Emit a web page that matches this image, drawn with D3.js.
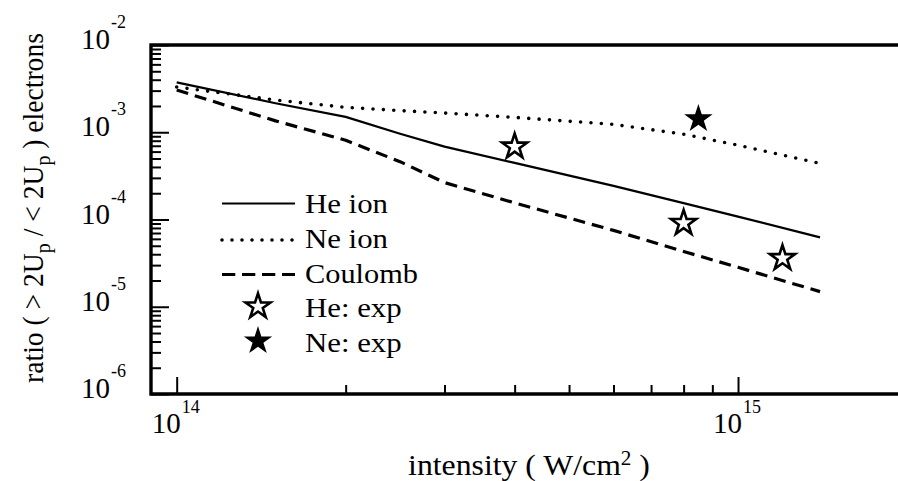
<!DOCTYPE html>
<html>
<head>
<meta charset="utf-8">
<script src="https://cdn.jsdelivr.net/npm/d3@7/dist/d3.min.js"></script>
<style>
  html, body { margin: 0; padding: 0; background: #fff; }
  svg { display: block; }
</style>
</head>
<body>
<svg id="chart" width="898" height="481"></svg>
<script>
// Intensities (W/cm^2) at which the model curves are evaluated
const intensity = [1e14, 1.5e14, 2e14, 2.5e14, 3e14, 4e14, 6e14, 8e14, 1e15, 1.4e15];
// Ratio of high-energy (>2Up) to low-energy (<2Up) electrons
const heIon   = [3.73e-3, 2.15e-3, 1.5e-3, 9.6e-4, 6.85e-4, 4.45e-4, 2.43e-4, 1.54e-4, 1.08e-4, 6.25e-5];
const neIon   = [3.3e-3, 2.34e-3, 1.93e-3, 1.77e-3, 1.66e-3, 1.48e-3, 1.23e-3, 9.5e-4, 7.1e-4, 4.4e-4];
const coulomb = [3.05e-3, 1.35e-3, 8.1e-4, 4.6e-4, 2.65e-4, 1.55e-4, 7.5e-5, 4.3e-5, 2.83e-5, 1.49e-5];
// Experimental points
const heExpX = [4e14, 8e14, 1.2e15];
const heExpY = [6.83e-4, 9.1e-5, 3.6e-5];
const neExpX = [8.5e14];
const neExpY = [1.42e-3];
// Axis ticks
const xMajor = [1e14, 1e15];
const xMajorExp = ["14", "15"];
const xMinor = [2e14, 3e14, 4e14, 5e14, 6e14, 7e14, 8e14, 9e14];
const yMajor = [1e-6, 1e-5, 1e-4, 1e-3, 1e-2];
const yMajorExp = ["-6", "-5", "-4", "-3", "-2"];
const yMinor = yMajor.slice(0, 4).flatMap(d => [2,3,4,5,6,7,8,9].map(k => k * d));
// Legend
const legendLabels = ["He ion", "Ne ion", "Coulomb", "He: exp", "Ne: exp"];

const FONT = "'Liberation Serif', 'Times New Roman', serif";
const svg = d3.select("#chart");

const x = d3.scaleLog().domain([9e13, 2e15]).range([151, 907]);
const y = d3.scaleLog().domain([1e-6, 1e-2]).range([394, 45]);
const plotL = 151, plotR = 898, plotT = 45, plotB = 394;

// horizontal fitting of a text element to a target width
function fitText(t, target, tx, ty, rot) {
  const w = t.node().getBBox().width;
  const s = target / w;
  t.attr("transform", `translate(${tx},${ty})` + (rot ? ` rotate(${rot})` : "") + ` scale(${s},1)`);
}
function addText(sz) {
  return svg.append("text").style("font-family", FONT).attr("font-size", sz).attr("fill", "#000");
}

// Curves
const line = d3.line().x(d => x(d[0])).y(d => y(d[1]));
const styles = {
  he: { w: 2.2, dash: null, cap: "butt" },
  ne: { w: 3.6, dash: "0,10.4", cap: "round" },
  co: { w: 3.2, dash: "12,7", cap: "butt" }
};
function drawCurve(vals, st) {
  svg.append("path")
    .datum(intensity.map((v, i) => [v, vals[i]]))
    .attr("d", line)
    .attr("fill", "none")
    .attr("stroke", "#000")
    .attr("stroke-width", st.w)
    .attr("stroke-linecap", st.cap)
    .attr("stroke-linejoin", "round")
    .attr("stroke-dasharray", st.dash);
}
drawCurve(heIon, styles.he);
drawCurve(neIon, styles.ne);
drawCurve(coulomb, styles.co);

// Stars
const star = d3.symbol().type(d3.symbolStar).size(195);
const starFilled = d3.symbol().type(d3.symbolStar).size(250);
svg.selectAll(".he-exp").data(heExpX).join("path")
  .attr("class", "he-exp")
  .attr("d", star)
  .attr("transform", (d, i) => `translate(${x(d)},${y(heExpY[i])})`)
  .attr("fill", "#fff").attr("stroke", "#000").attr("stroke-width", 2.6)
  .attr("stroke-linejoin", "miter");
svg.selectAll(".ne-exp").data(neExpX).join("path")
  .attr("class", "ne-exp")
  .attr("d", starFilled)
  .attr("transform", (d, i) => `translate(${x(d)},${y(neExpY[i])})`)
  .attr("fill", "#000");

// Axes (ticks point inward)
const gx = svg.append("g").attr("transform", `translate(0,${plotB})`);
gx.append("g").call(d3.axisTop(x).tickValues(xMinor).tickSize(9).tickFormat(""))
  .call(g => g.select(".domain").remove());
gx.append("g").call(d3.axisTop(x).tickValues(xMajor).tickSize(17).tickFormat(""))
  .call(g => g.select(".domain").remove());
gx.selectAll("line").attr("stroke-width", 2);

const gy = svg.append("g").attr("transform", `translate(${plotL},0)`);
gy.append("g").call(d3.axisRight(y).tickValues(yMinor).tickSize(10).tickFormat(""))
  .call(g => g.select(".domain").remove());
gy.append("g").call(d3.axisRight(y).tickValues(yMajor).tickSize(18).tickFormat(""))
  .call(g => g.select(".domain").remove());
gy.selectAll("line").attr("stroke-width", 2);

// Frame
svg.append("path")
  .attr("d", `M${plotR},${plotT}H${plotL}V${plotB}H${plotR}`)
  .attr("fill", "none").attr("stroke", "#000").attr("stroke-width", 3.4);

// Tick labels
xMajor.forEach((v, i) => {
  addText(29).attr("x", x(v) - 25).attr("y", plotB + 39).text("10");
  addText(18).attr("x", x(v) + 5).attr("y", plotB + 19).text(xMajorExp[i]);
});
yMajor.forEach((v, i) => {
  addText(29).attr("x", 110).attr("y", y(v) + 4).attr("text-anchor", "end").text("10");
  addText(18).attr("x", 111).attr("y", y(v) - 17).text(yMajorExp[i]);
});

// X axis title
const xt = addText(30).attr("text-anchor", "middle");
xt.append("tspan").text("intensity ( W/cm");
xt.append("tspan").attr("font-size", 20).attr("dy", -10).text("2");
xt.append("tspan").attr("dy", 10).text(" )");
fitText(xt, 242, 529, 475);

// Y axis title
const yt = addText(29).attr("text-anchor", "middle");
yt.append("tspan").text("ratio ( > 2U");
yt.append("tspan").attr("font-size", 21).attr("dy", 7).text("p");
yt.append("tspan").attr("dy", -7).text(" / < 2U");
yt.append("tspan").attr("font-size", 21).attr("dy", 7).text("p");
yt.append("tspan").attr("dy", -7).text(" ) electrons");
fitText(yt, 350, 43, 208, -90);

// Legend
const lgX0 = 222, lgX1 = 295, lgText = 305;
const lgRowY = [203.5, 240, 274.5, 306.5, 341];
const lgBase = [213.3, 248.3, 282.7, 317.3, 351.7];
const lgWidth = [83, 83, 113, 96.7, 96.7];
[styles.he, styles.ne, styles.co].forEach((st, i) => {
  svg.append("line")
    .attr("x1", lgX0).attr("x2", lgX1).attr("y1", lgRowY[i]).attr("y2", lgRowY[i])
    .attr("stroke", "#000").attr("stroke-width", st.w)
    .attr("stroke-linecap", st.cap).attr("stroke-dasharray", i === 1 ? "0,10" : (i === 2 ? "13.3,6.7" : null));
});
svg.append("path").attr("d", star).attr("transform", `translate(258,${lgRowY[3]})`)
  .attr("fill", "#fff").attr("stroke", "#000").attr("stroke-width", 2.6);
svg.append("path").attr("d", starFilled)
  .attr("transform", `translate(258,${lgRowY[4]})`).attr("fill", "#000");
legendLabels.forEach((lab, i) => {
  const t = addText(28).text(lab);
  fitText(t, lgWidth[i], lgText, lgBase[i]);
});
</script>
</body>
</html>
